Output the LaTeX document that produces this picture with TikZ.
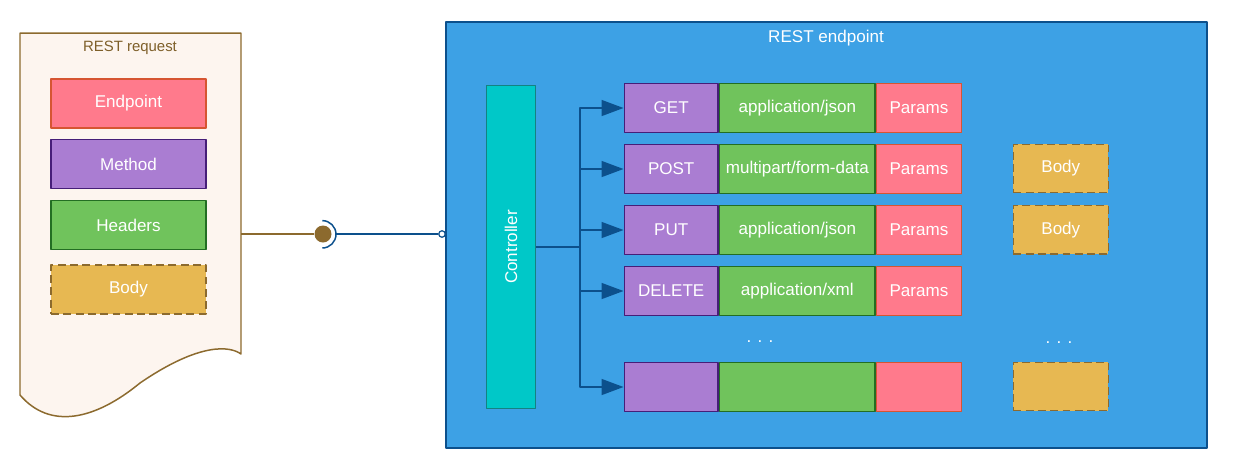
\documentclass[tikz,border=0pt]{standalone}
\usepackage{fontspec}
\setmainfont{Liberation Sans}
\usetikzlibrary{arrows.meta,positioning}
\definecolor{docfill}{RGB}{253,245,239}
\definecolor{brownline}{RGB}{140,106,46}
\definecolor{pinkfill}{RGB}{255,122,140}
\definecolor{pinkline}{RGB}{214,85,50}
\definecolor{purplefill}{RGB}{170,125,210}
\definecolor{purpleline}{RGB}{70,30,120}
\definecolor{greenfill}{RGB}{112,195,92}
\definecolor{greenline}{RGB}{35,110,35}
\definecolor{yellowfill}{RGB}{231,184,82}
\definecolor{bluefill}{RGB}{61,161,229}
\definecolor{blueline}{RGB}{12,80,140}
\definecolor{tealfill}{RGB}{0,200,200}
\definecolor{tealline}{RGB}{20,130,130}
\begin{document}
\begin{tikzpicture}[x=0.02cm,y=-0.02cm,>={Triangle[length=0.44cm,width=0.32cm]},line join=round,
    font=\fontsize{9.7}{11}\selectfont,
    box/.style={draw,line width=0.8pt,minimum height=0.98cm,inner sep=0pt,text=white},
    pinkbox/.style={box,fill=pinkfill,draw=pinkline},
    purplebox/.style={box,fill=purplefill,draw=purpleline},
    greenbox/.style={box,fill=greenfill,draw=greenline},
    bodybox/.style={box,fill=yellowfill,draw=brownline,dashed,dash pattern=on 4.5pt off 2.5pt},
    conn/.style={draw=blueline,line width=0.85pt}]
    \useasboundingbox (0,0) rectangle (1242,461);
    % request document
    \draw[draw=brownline,fill=docfill,line width=0.85pt] (20,33)--(241,33)--(241,354)
        .. controls (230,346) and (200,342) .. (140,383)
        .. controls (95,420) and (50,430) .. (20,395)--cycle;
    \node[text=brownline!90!black,font=\fontsize{8.5}{10}\selectfont] (reqtitle) at (130,48) {REST request};
    \node[pinkbox,minimum width=3.1cm] (endpoint) at (128.5,103.5) {Endpoint};
    \node[purplebox,minimum width=3.1cm] (method) at (128.5,164) {Method};
    \node[greenbox,minimum width=3.1cm] (headers) at (128.5,225) {Headers};
    \node[bodybox,minimum width=3.1cm] (body) at (128.5,289.5) {Body};
    % interface
    \coordinate (docR) at (241,234);
    \node[circle,fill=brownline,minimum size=0.34cm,inner sep=0pt] (ball) at (323,234) {};
    \draw[draw=brownline,line width=0.85pt] (docR)--(ball);
    \coordinate (sockT) at (322.3,220.6);
    \coordinate (sock) at (336,234);
    \draw[conn] (sockT) arc[start angle=90,end angle=-90,radius=0.274cm];
    % endpoint container
    \node[draw=blueline,fill=bluefill,line width=1.1pt,minimum width=15.22cm,minimum height=8.52cm] (rest) at (826.5,235) {};
    \node[text=white] (resttitle) at (826,38) {REST endpoint};
    \node[circle,draw=blueline,fill=white,line width=0.7pt,minimum size=0.13cm,inner sep=0pt] (port) at (442,234) {};
    \draw[conn] (sock)--(port);
    \node[box,fill=tealfill,draw=tealline,minimum width=0.98cm,minimum height=6.45cm] (ctrl) at (511,247) {\rotatebox{90}{Controller}};
    \coordinate (fork) at (580,247);
    \draw[conn] (ctrl.east)--(fork);
    \foreach \n/\y/\m/\c/\p in {1/108/GET/{application/json}/Params,2/169/POST/{multipart/form-data}/Params,
        3/230/PUT/{application/json}/Params,4/291/DELETE/{application/xml}/Params,5/387///}{
        \node[purplebox,minimum width=1.88cm] (m\n) at (671.2,\y) {\m};
        \node[greenbox,minimum width=3.11cm,right=0pt of m\n] (c\n) {\c};
        \node[pinkbox,minimum width=1.7cm,right=0pt of c\n] (p\n) {\p};
        \draw[conn,->] (fork) |- (m\n.west);
    }
    \node[bodybox,minimum width=1.9cm,minimum height=0.97cm] (b2) at (1060.8,168.5) {Body};
    \node[bodybox,minimum width=1.9cm,minimum height=0.97cm] (b3) at (1060.8,229.7) {Body};
    \node[bodybox,minimum width=1.9cm,minimum height=0.97cm] (b5) at (1060.8,386.5) {};
    \node[text=white] (dots1) at (760,342) {. . .};
    \node[text=white] (dots2) at (1059,343) {. . .};
\end{tikzpicture}
\end{document}
